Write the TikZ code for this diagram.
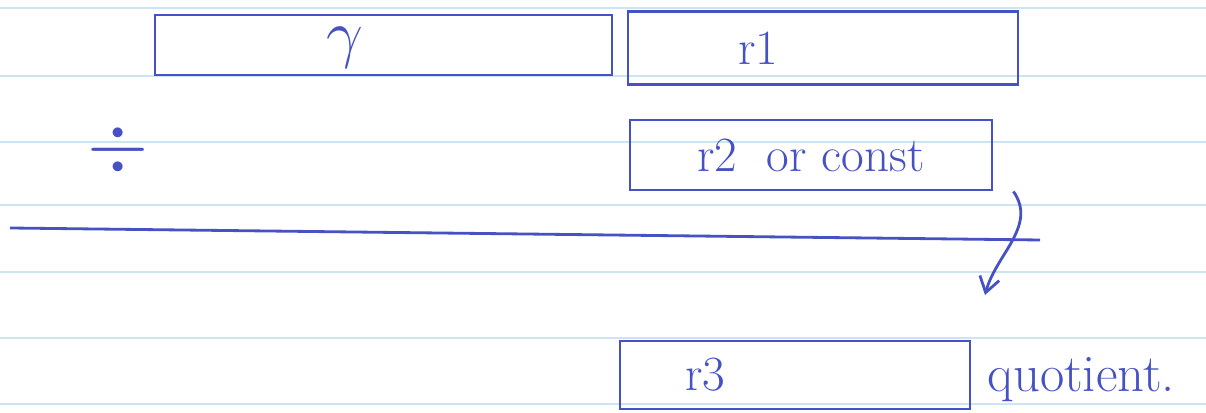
\documentclass[tikz,border=0pt]{standalone}
\usepackage{tikz}
\usetikzlibrary{arrows.meta,positioning}
\definecolor{penblue}{RGB}{70,82,196}
\definecolor{ruleblue}{RGB}{205,228,242}

\begin{document}
\begin{tikzpicture}[
        reg/.style={draw=penblue, line width=1.6pt, minimum height=1.3cm, inner sep=0pt, text=penblue, font=\fontsize{28}{32}\selectfont},
        glyph/.style={text=penblue, inner sep=0pt, transform shape},
        flow/.style={-{Straight Barb[length=3mm, width=4mm]}, draw=penblue, line width=1.6pt},
        ruled/.style={draw=ruleblue, line width=0.8pt}
      ]
      \useasboundingbox (0,0) rectangle (24.12,8.26);
      % ruled paper
      \foreach \y in {8.10,6.74,5.42,4.16,2.82,1.50,0.18}
        \draw[ruled] (0,\y) -- (24.12,\y);

      \node[reg, minimum width=9.14cm, minimum height=1.2cm] (rhi) at (7.67,7.36) {};
      \node[glyph, scale=1.5] (gam) at (6.90,7.30) {\fontsize{24.88}{28}\selectfont$\gamma$};
      \node[reg, minimum width=7.8cm, minimum height=1.46cm] (r1) at (16.46,7.30) {r1\hspace*{2.6cm}};
      \node[reg, minimum width=7.24cm, minimum height=1.4cm] (r2) at (16.22,5.16) {r2\hspace{0.6em}or const};
      \node[reg, minimum width=7.0cm, minimum height=1.36cm] (r3) at (15.90,0.76) {r3\hspace*{3.6cm}};

      \node[glyph, scale=1.8] (div) at (2.36,5.26) {\fontsize{24.88}{28}\selectfont$\div$};
      \coordinate (bl) at (0.2,3.70);
      \coordinate (br) at (20.8,3.46);
      \draw[draw=penblue, line width=1.6pt] (bl) -- (br);

      \coordinate (qend) at (19.70,2.36);
      \draw[flow] ([xshift=4mm]r2.south east) to[out=-55, in=75] (qend);
      \node[anchor=west, text=penblue, font=\fontsize{30}{34}\selectfont] (quot) at ([xshift=2mm, yshift=-1mm]r3.east) {quotient.};
    \end{tikzpicture}
\end{document}
